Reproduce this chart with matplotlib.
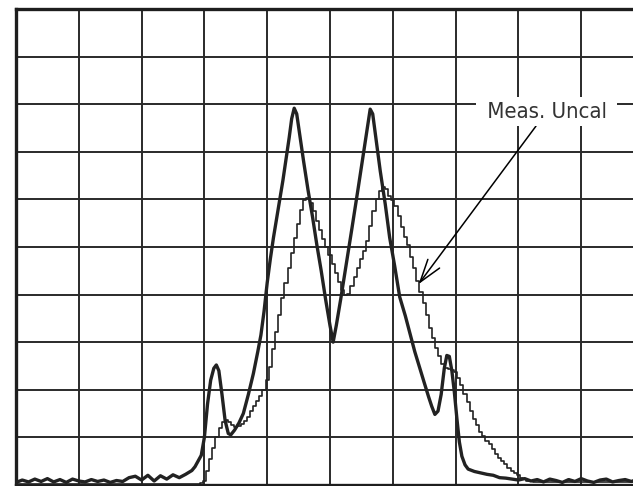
import matplotlib
matplotlib.use('Agg')
import matplotlib.pyplot as plt
from matplotlib import font_manager

# measured trace (thick), x and y in screen divisions
cal_x = [0.0, 0.1, 0.2, 0.3, 0.4, 0.5, 0.6, 0.7, 0.8, 0.9, 1.0, 1.1, 1.2, 1.3, 1.4,
         1.5, 1.6, 1.7, 1.8, 1.9, 2.0, 2.1, 2.2, 2.3, 2.4, 2.5, 2.6, 2.7, 2.8, 2.85,
         2.9, 2.95, 3.0, 3.05, 3.1, 3.15, 3.19, 3.23, 3.28, 3.33, 3.38, 3.42, 3.48,
         3.55, 3.62, 3.7, 3.78, 3.85, 3.9, 3.95, 4.0, 4.05, 4.1, 4.15, 4.2, 4.25,
         4.3, 4.35, 4.39, 4.43, 4.47, 4.52, 4.58, 4.65, 4.72, 4.79, 4.86, 4.93,
         5.0, 5.05, 5.1, 5.17, 5.26, 5.35, 5.45, 5.53, 5.6, 5.64, 5.68, 5.73, 5.8,
         5.88, 5.95, 6.03, 6.11, 6.2, 6.27, 6.35, 6.43, 6.5, 6.57, 6.62, 6.67, 6.72,
         6.77, 6.82, 6.86, 6.9, 6.94, 6.98, 7.02, 7.06, 7.1, 7.15, 7.2, 7.3, 7.4,
         7.5, 7.6, 7.7, 7.8, 7.9, 8.0, 8.1, 8.2, 8.3, 8.4, 8.5, 8.6, 8.7, 8.8, 8.9,
         9.0, 9.1, 9.2, 9.3, 9.4, 9.5, 9.6, 9.7, 9.8, 9.9, 10.0]
cal_y = [0.05, 0.10, 0.06, 0.12, 0.07, 0.13, 0.06, 0.11, 0.05, 0.12, 0.08, 0.06, 0.11,
         0.07, 0.10, 0.05, 0.09, 0.07, 0.15, 0.18, 0.10, 0.20, 0.08, 0.19, 0.12, 0.21,
         0.15, 0.22, 0.30, 0.38, 0.50, 0.62, 1.00, 1.70, 2.20, 2.45, 2.52, 2.40, 1.90,
         1.35, 1.08, 1.05, 1.15, 1.30, 1.50, 1.90, 2.34, 2.80, 3.15, 3.65, 4.25, 4.75,
         5.20, 5.60, 6.00, 6.40, 6.85, 7.30, 7.70, 7.92, 7.80, 7.35, 6.80, 6.20, 5.65,
         5.05, 4.50, 3.90, 3.35, 3.00, 3.35, 3.90, 4.65, 5.40, 6.25, 6.95, 7.55, 7.90,
         7.80, 7.30, 6.60, 5.90, 5.20, 4.60, 3.95, 3.55, 3.20, 2.80, 2.45, 2.15, 1.85,
         1.65, 1.48, 1.55, 1.90, 2.45, 2.72, 2.70, 2.40, 1.95, 1.40, 0.90, 0.60, 0.42,
         0.33, 0.28, 0.25, 0.22, 0.20, 0.15, 0.14, 0.12, 0.10, 0.13, 0.08, 0.11, 0.06,
         0.12, 0.09, 0.05, 0.11, 0.07, 0.13, 0.08, 0.05, 0.10, 0.12, 0.06, 0.09, 0.11,
         0.07, 0.12, 0.08]

# uncalibrated trace (thin, stepped)
uncal_x = [0.0, 1.0, 2.0, 2.9, 2.95, 3.0, 3.05, 3.1, 3.15, 3.2, 3.25, 3.3, 3.35, 3.4,
           3.45, 3.5, 3.55, 3.6, 3.65, 3.7, 3.75, 3.8, 3.85, 3.9, 3.95, 4.0, 4.05,
           4.1, 4.15, 4.2, 4.25, 4.3, 4.35, 4.4, 4.45, 4.5, 4.55, 4.6, 4.65, 4.7,
           4.75, 4.8, 4.85, 4.9, 4.95, 5.0, 5.05, 5.1, 5.15, 5.2, 5.25, 5.3, 5.35,
           5.4, 5.45, 5.5, 5.55, 5.6, 5.65, 5.7, 5.75, 5.8, 5.85, 5.9, 5.95, 6.0,
           6.05, 6.1, 6.15, 6.2, 6.25, 6.3, 6.35, 6.4, 6.45, 6.5, 6.55, 6.6, 6.65,
           6.7, 6.75, 6.8, 6.85, 6.9, 6.95, 7.0, 7.05, 7.1, 7.15, 7.2, 7.25, 7.3,
           7.35, 7.4, 7.45, 7.5, 7.55, 7.6, 7.65, 7.7, 7.75, 7.8, 7.85, 7.9, 7.95,
           8.0, 8.05, 8.1, 8.15, 8.2, 8.25, 8.5, 9.0, 9.5, 10.0]
uncal_y = [0.02, 0.02, 0.02, 0.02, 0.03, 0.08, 0.30, 0.55, 0.78, 1.00, 1.20, 1.33,
           1.36, 1.32, 1.25, 1.22, 1.23, 1.27, 1.34, 1.43, 1.55, 1.66, 1.76, 1.86,
           2.00, 2.20, 2.48, 2.85, 3.22, 3.58, 3.93, 4.25, 4.55, 4.88, 5.18, 5.48,
           5.78, 5.98, 6.03, 5.92, 5.75, 5.55, 5.35, 5.17, 5.00, 4.83, 4.64, 4.45,
           4.26, 4.10, 3.99, 4.02, 4.18, 4.38, 4.56, 4.74, 4.92, 5.12, 5.45, 5.75,
           6.00, 6.18, 6.27, 6.22, 6.08, 5.98, 5.86, 5.65, 5.43, 5.22, 5.05, 4.80,
           4.55, 4.28, 4.05, 3.82, 3.58, 3.30, 3.08, 2.88, 2.70, 2.55, 2.46, 2.43,
           2.42, 2.38, 2.25, 2.10, 1.92, 1.75, 1.55, 1.38, 1.25, 1.12, 1.02, 0.93,
           0.85, 0.75, 0.65, 0.57, 0.50, 0.44, 0.36, 0.30, 0.24, 0.20, 0.15, 0.12,
           0.09, 0.07, 0.05, 0.05, 0.05, 0.05, 0.05]

label_text = 'Meas. Uncal'
label_xy = (8.45, 7.72)
arrow_tip = (6.41, 4.22)

ink = '#2a2a2a'

# look for a narrow sans face for the label
narrow = None
for f in font_manager.fontManager.ttflist:
    if f.name in ('Liberation Sans Narrow', 'DejaVu Sans') and f.stretch in ('condensed', 'semi-condensed', 'extra-condensed') \
            and f.style == 'normal' and f.weight in (400, 'normal'):
        narrow = f.fname
        break

fig = plt.figure(figsize=(6.33, 4.86), dpi=100)
ax = fig.add_axes([16 / 633, 1.2 / 486, 628 / 633, 475.5 / 486])
ax.set_xlim(0, 10)
ax.set_ylim(0, 10)
ax.set_xticks(range(11))
ax.set_yticks(range(11))
ax.tick_params(length=0, labelbottom=False, labelleft=False)
ax.grid(True, color=ink, linewidth=1.4)
ax.set_axisbelow(True)
for s in ax.spines.values():
    s.set_linewidth(2.4)
    s.set_color('#1e1e1e')

ax.plot(uncal_x, uncal_y, color='#222222', linewidth=1.2, drawstyle='steps-mid',
        zorder=3)
ax.plot(cal_x, cal_y, color='#222222', linewidth=2.4, solid_joinstyle='round',
        zorder=4)

if narrow:
    fp = font_manager.FontProperties(fname=narrow, size=15.8)
else:
    fp = font_manager.FontProperties(family='DejaVu Sans', size=14.5)

ax.annotate(' ' + label_text + ' ', xy=arrow_tip, xytext=label_xy,
            ha='center', va='baseline', color='#333333', fontproperties=fp,
            bbox=dict(boxstyle='square,pad=0.2', fc='white', ec='none'),
            arrowprops=dict(arrowstyle='->,head_length=1.1,head_width=0.35',
                            color='black', lw=1.1, shrinkA=0, shrinkB=0,
                            mutation_scale=15),
            zorder=5)

fig.savefig('out.png', dpi=100)
